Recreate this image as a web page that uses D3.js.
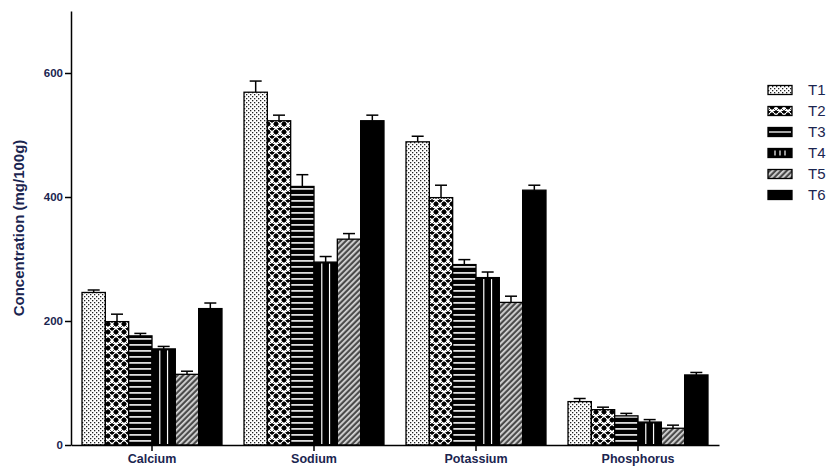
<!DOCTYPE html>
<html><head><meta charset="utf-8">
<script src="https://cdn.jsdelivr.net/npm/d3@7"></script>
<style>body{margin:0;background:#fff}svg{display:block}</style>
</head><body><svg id="c" width="833" height="470"></svg>
<script>
const categories = ["Calcium","Sodium","Potassium","Phosphorus"];
const series = ["T1","T2","T3","T4","T5","T6"];
const T1 = [246, 569, 489, 70];
const T2 = [199, 523, 399, 57];
const T3 = [176, 417, 291, 47];
const T4 = [155, 295, 270, 37];
const T5 = [114, 332, 230, 27];
const T6 = [220, 523, 411, 113];
const E1 = [4, 18, 9, 5];
const E2 = [12, 9, 20, 4];
const E3 = [4, 19, 8, 4];
const E4 = [4, 9, 9, 4];
const E5 = [5, 9, 10, 5];
const E6 = [9, 9, 8, 4];
const yTicks = [0, 200, 400, 600];

const vals = [T1,T2,T3,T4,T5,T6], errs = [E1,E2,E3,E4,E5,E6];
const textCol = "#1b2550";
const svg = d3.select("#c");
const defs = svg.append("defs");

// patterns
let p = defs.append("pattern").attr("id","p1").attr("patternUnits","userSpaceOnUse").attr("width",4).attr("height",4);
p.append("rect").attr("width",4).attr("height",4).attr("fill","#fff");
p.append("rect").attr("x",0).attr("y",0).attr("width",1.3).attr("height",1.3).attr("fill","#222");
p.append("rect").attr("x",2).attr("y",2).attr("width",1.3).attr("height",1.3).attr("fill","#222");

p = defs.append("pattern").attr("id","p2").attr("patternUnits","userSpaceOnUse").attr("width",8).attr("height",8);
p.append("rect").attr("width",8).attr("height",8).attr("fill","#fff");
p.append("path").attr("d","M4,1 L7,4 L4,7 L1,4 Z").attr("fill","#000");
p.append("path").attr("d","M0,0 L8,8 M8,0 L0,8").attr("stroke","#000").attr("stroke-width",0.7);
p.append("path").attr("d","M0,-3 L3,0 L0,3 Z M8,-3 L5,0 L8,3Z").attr("fill","#000");

p = defs.append("pattern").attr("id","p3").attr("patternUnits","userSpaceOnUse").attr("width",6).attr("height",6);
p.append("rect").attr("width",6).attr("height",6).attr("fill","#000");
p.append("rect").attr("y",2).attr("width",6).attr("height",1.8).attr("fill","#ddd");

p = defs.append("pattern").attr("id","p5").attr("patternUnits","userSpaceOnUse").attr("width",4).attr("height",4).attr("patternTransform","rotate(45)");
p.append("rect").attr("width",4).attr("height",4).attr("fill","#4a4a4a");
p.append("rect").attr("width",1.8).attr("height",4).attr("fill","#d8d8d8");

const fills = ["url(#p1)","url(#p2)","url(#p3)","#000","url(#p5)","#000"];

const x = d3.scaleBand().domain(categories).range([71,719]).paddingInner(0.136).paddingOuter(0.068);
const xs = d3.scaleBand().domain(series).range([0, x.bandwidth()]);
const y = d3.scaleLinear().domain([0,700]).range([445, 11]);
const bw = xs.bandwidth();

const data = [];
categories.forEach((c,ci)=>series.forEach((s,si)=>data.push({c, s, si, v: vals[si][ci], e: errs[si][ci]})));

const g = svg.append("g");
// error bars
const eb = g.selectAll(".eb").data(data).enter().append("g").attr("stroke","#000").attr("stroke-width",1.5);
eb.append("line").attr("x1",d=>x(d.c)+xs(d.s)+bw/2).attr("x2",d=>x(d.c)+xs(d.s)+bw/2)
  .attr("y1",d=>y(d.v)).attr("y2",d=>y(d.v+d.e));
eb.append("line").attr("x1",d=>x(d.c)+xs(d.s)+bw/2-6).attr("x2",d=>x(d.c)+xs(d.s)+bw/2+6)
  .attr("y1",d=>y(d.v+d.e)).attr("y2",d=>y(d.v+d.e));

// bars
g.selectAll(".bar").data(data).enter().append("rect")
  .attr("x",d=>x(d.c)+xs(d.s)).attr("y",d=>y(d.v)).attr("width",bw).attr("height",d=>y(0)-y(d.v))
  .attr("fill",d=>fills[d.si]).attr("stroke","#000").attr("stroke-width",1.3);
// T4 white vertical lines
const t4 = data.filter(d=>d.si===3);
[1/3, 2/3].forEach(f=>{
  g.selectAll(null).data(t4).enter().append("line")
    .attr("x1",d=>x(d.c)+xs(d.s)+bw*f).attr("x2",d=>x(d.c)+xs(d.s)+bw*f)
    .attr("y1",d=>y(d.v)+1.5).attr("y2",y(0)-1)
    .attr("stroke","#fff").attr("stroke-width",1.2);
});

// axes
const ya = svg.append("g").attr("transform","translate(71,0)")
  .call(d3.axisLeft(y).tickValues(yTicks).tickSize(6).tickPadding(2).tickSizeOuter(0));
ya.select(".domain").attr("stroke-width",1.5);
ya.selectAll(".tick line").attr("stroke-width",1.5);
ya.selectAll("text").attr("font-family","Liberation Sans, Arial, sans-serif").attr("font-weight","bold").attr("font-size",11.5).attr("fill",textCol);

const xa = svg.append("g").attr("transform","translate(0,445)")
  .call(d3.axisBottom(x).tickSize(6).tickSizeOuter(0).tickPadding(3));
xa.select(".domain").attr("stroke-width",1.5);
xa.selectAll(".tick line").attr("stroke-width",1.5);
xa.selectAll("text").attr("font-family","Liberation Sans, Arial, sans-serif").attr("font-weight","bold").attr("font-size",12.5).attr("fill",textCol);

svg.append("text").attr("transform","translate(24,228) rotate(-90)").attr("text-anchor","middle")
  .attr("font-family","Liberation Sans, Arial, sans-serif").attr("font-weight","bold").attr("font-size",15)
  .attr("fill",textCol).text("Concentration (mg/100g)");

// legend
const lg = svg.append("g").selectAll("g").data(series).enter().append("g")
  .attr("transform",(d,i)=>`translate(768,${90+i*21})`);
lg.append("rect").attr("x",0).attr("y",-4.5).attr("width",24).attr("height",9)
  .attr("fill",(d,i)=>i===2 ? "#000" : fills[i]).attr("stroke","#000").attr("stroke-width",1.3);
lg.filter((d,i)=>i===2).append("line").attr("x1",1).attr("x2",23).attr("y1",0).attr("y2",0)
  .attr("stroke","#ddd").attr("stroke-width",1.5);
lg.filter((d,i)=>i===3).each(function(){
  const s = d3.select(this);
  [7,12,17].forEach(xx=>s.append("line").attr("x1",xx).attr("x2",xx).attr("y1",-2.5).attr("y2",2.5).attr("stroke","#fff").attr("stroke-width",1.2));
});
lg.append("text").attr("x",40).attr("y",0).attr("dy","0.36em")
  .attr("font-family","Liberation Sans, Arial, sans-serif").attr("font-size",15).attr("fill",textCol).text(d=>d);
</script></body></html>
